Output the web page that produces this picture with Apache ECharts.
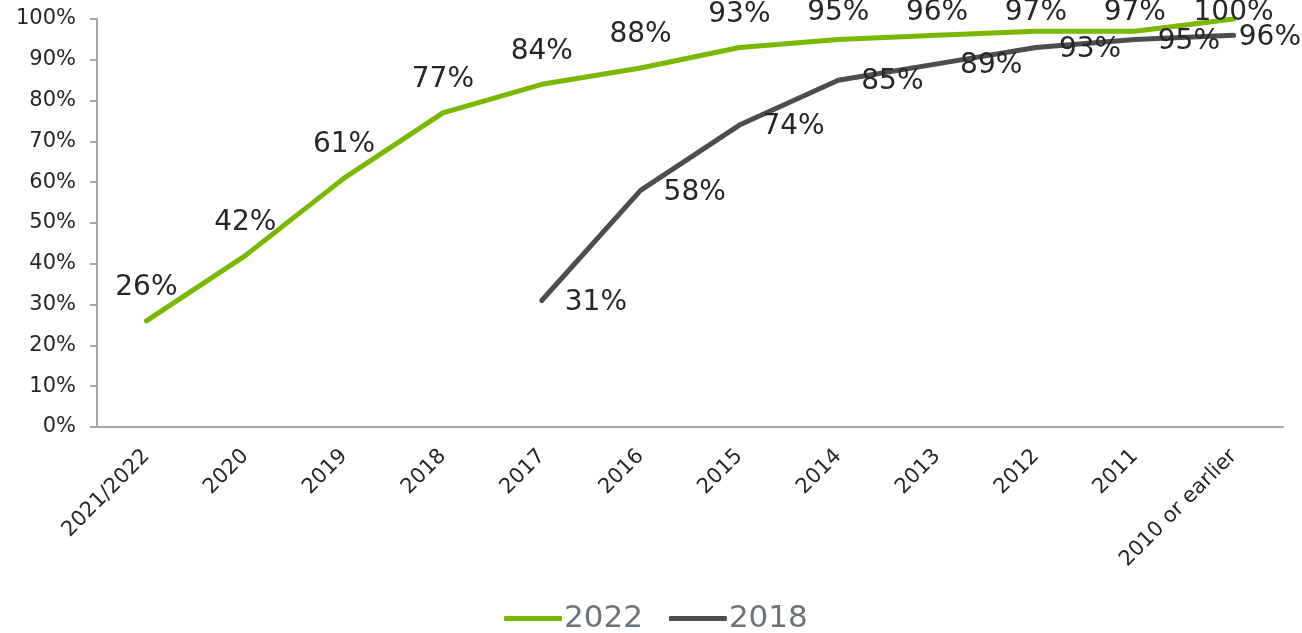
<!DOCTYPE html>
<html lang="en">
<head>
    <meta charset="UTF-8">
    <title>2022 vs 2018</title>
    <script src="https://cdn.jsdelivr.net/npm/echarts@6/dist/echarts.min.js"></script>
    <style>
        html, body { margin: 0; padding: 0; background: #fff; }
        #main { width: 1302px; height: 633px; }
    </style>
</head>
<body>
<div id="main"></div>
<script>
    var categories = ['2021/2022', '2020', '2019', '2018', '2017', '2016', '2015', '2014', '2013', '2012', '2011', '2010 or earlier'];
    var values2022 = [26, 42, 61, 77, 84, 88, 93, 95, 96, 97, 97, 100];
    var values2018 = [null, null, null, null, 31, 58, 74, 85, 89, 93, 95, 96];
    var yTicks = [0, 100, 10]; // min, max, step

    var font = 'DejaVu Sans';
    var myChart = echarts.init(document.getElementById('main'));

    var option = {
        animation: false,
        textStyle: { fontFamily: font },
        grid: { left: 97, right: 19, top: 19, bottom: 206 },
        legend: {
            bottom: -6,
            left: 499,
            icon: 'roundRect',
            itemWidth: 58,
            itemHeight: 5,
            itemGap: 26,
            textStyle: { fontFamily: font, fontSize: 31, color: '#6b747a', padding: [0, 0, 0, -3] },
            data: ['2022', '2018']
        },
        xAxis: {
            type: 'category',
            data: categories,
            axisLine: { lineStyle: { color: '#a6a6a6', width: 2 } },
            axisTick: { length: 7, lineStyle: { color: '#a6a6a6', width: 2 } },
            axisLabel: { rotate: 45, fontSize: 21, color: '#262626', margin: 26, fontFamily: font, interval: 0 }
        },
        yAxis: {
            type: 'value',
            min: yTicks[0],
            max: yTicks[1],
            interval: yTicks[2],
            splitLine: { show: false },
            axisLine: { show: true, lineStyle: { color: '#a6a6a6', width: 2 } },
            axisTick: { show: true, length: 7, lineStyle: { color: '#a6a6a6', width: 2 } },
            axisLabel: { formatter: '{value}%', fontSize: 21, color: '#262626', margin: 21, fontFamily: font }
        },
        series: [
            {
                name: '2022',
                type: 'line',
                data: values2022,
                showSymbol: true,
                symbol: 'circle',
                symbolSize: 0.01,
                color: '#7ab800',
                lineStyle: { width: 5, cap: 'round', join: 'round' },
                label: {
                    show: true, position: 'top', distance: 19,
                    formatter: '{c}%', fontSize: 28, color: '#262626', fontFamily: font
                },
                labelLayout: function (p) {
                    return { dy: Math.max(0, -1 - p.labelRect.y) };
                }
            },
            {
                name: '2018',
                type: 'line',
                data: values2018,
                showSymbol: true,
                symbol: 'circle',
                symbolSize: 0.01,
                color: '#4d4d4d',
                lineStyle: { width: 5, cap: 'round', join: 'round' },
                label: {
                    show: true, position: 'right', distance: 23,
                    formatter: '{c}%', fontSize: 28, color: '#262626', fontFamily: font
                },
                labelLayout: function (p) {
                    return { dx: Math.min(0, 1301 - (p.labelRect.x + p.labelRect.width)), dy: 2 };
                }
            }
        ]
    };
    myChart.setOption(option);
</script>
</body>
</html>
